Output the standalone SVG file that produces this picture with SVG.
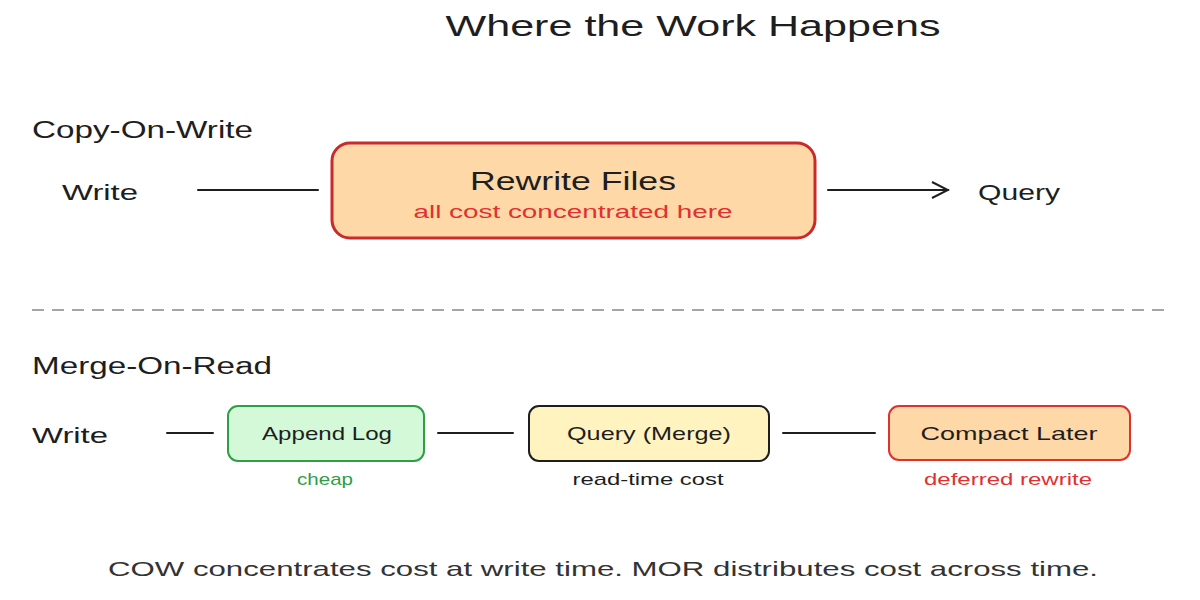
<svg xmlns="http://www.w3.org/2000/svg" width="1200" height="600" viewBox="0 0 1200 600">
<defs>
<style>
text{font-family:"Liberation Sans","DejaVu Sans",sans-serif;fill:#1e1e1e}
.line{stroke:#1e1e1e;stroke-width:2;fill:none;stroke-linecap:round}
.sec{font-size:23px}
.lbl{font-size:22px}
.sub{font-size:17px;text-anchor:middle}
</style>
<marker id="arr" viewBox="0 0 20 20" refX="18" refY="10" markerWidth="20" markerHeight="20" markerUnits="userSpaceOnUse" orient="auto"><path d="M2,2 L18,10 L2,18" fill="none" stroke="#1e1e1e" stroke-width="2"/></marker>
</defs>
<rect width="1200" height="600" fill="#fff"/>
<text x="693" y="36" font-size="30" text-anchor="middle" textLength="495" lengthAdjust="spacingAndGlyphs">Where the Work Happens</text>
<text class="sec" x="32" y="138" textLength="221" lengthAdjust="spacingAndGlyphs">Copy-On-Write</text>
<text class="sec" x="32" y="374" textLength="240" lengthAdjust="spacingAndGlyphs">Merge-On-Read</text>
<g id="connectors">
<line class="line" x1="198" y1="190" x2="318" y2="190"/>
<line class="line" x1="828" y1="190" x2="948" y2="190" marker-end="url(#arr)"/>
<line x1="32" y1="310" x2="1168" y2="310" stroke="#888" stroke-width="1.5" stroke-dasharray="12 8"/>
<line class="line" x1="167" y1="433" x2="213" y2="433"/>
<line class="line" x1="438" y1="433" x2="513" y2="433"/>
<line class="line" x1="783" y1="433" x2="875" y2="433"/>
</g>
<g id="cow-write"><text class="lbl" x="62" y="200" textLength="76" lengthAdjust="spacingAndGlyphs">Write</text></g>
<g id="rewrite">
<rect x="332" y="143" width="483" height="95" rx="18" fill="#ffd8a8" stroke="#c92a2a" stroke-width="3"/>
<text x="573" y="190" font-size="25" text-anchor="middle" textLength="206" lengthAdjust="spacingAndGlyphs">Rewrite Files</text>
<text x="573" y="218" font-size="18" text-anchor="middle" textLength="319" lengthAdjust="spacingAndGlyphs" style="fill:#e03131">all cost concentrated here</text>
</g>
<g id="cow-query"><text class="lbl" x="978" y="200" textLength="82" lengthAdjust="spacingAndGlyphs">Query</text></g>
<g id="mor-write"><text class="lbl" x="32" y="443" textLength="76" lengthAdjust="spacingAndGlyphs">Write</text></g>
<g id="append">
<rect x="228" y="406" width="196" height="55" rx="10" fill="#d3f9d8" stroke="#2f9e44" stroke-width="2"/>
<text x="327" y="440" font-size="19" text-anchor="middle" textLength="130" lengthAdjust="spacingAndGlyphs">Append Log</text>
<text class="sub" x="325" y="485" textLength="56" lengthAdjust="spacingAndGlyphs" style="fill:#2f9e44">cheap</text>
</g>
<g id="merge">
<rect x="529" y="406" width="240" height="55" rx="10" fill="#fff3bf" stroke="#1e1e1e" stroke-width="2"/>
<text x="649" y="440" font-size="19" text-anchor="middle" textLength="164" lengthAdjust="spacingAndGlyphs">Query (Merge)</text>
<text class="sub" x="648" y="485" textLength="151" lengthAdjust="spacingAndGlyphs">read-time cost</text>
</g>
<g id="compact">
<rect x="889" y="406" width="241" height="54" rx="10" fill="#ffd8a8" stroke="#e03131" stroke-width="2"/>
<text x="1009" y="440" font-size="19" text-anchor="middle" textLength="177" lengthAdjust="spacingAndGlyphs">Compact Later</text>
<text class="sub" x="1008" y="485" textLength="168" lengthAdjust="spacingAndGlyphs" style="fill:#e03131">deferred rewrite</text>
</g>
<text x="603" y="576" font-size="21" text-anchor="middle" textLength="990" lengthAdjust="spacingAndGlyphs" style="fill:#333">COW concentrates cost at write time. MOR distributes cost across time.</text>
</svg>
